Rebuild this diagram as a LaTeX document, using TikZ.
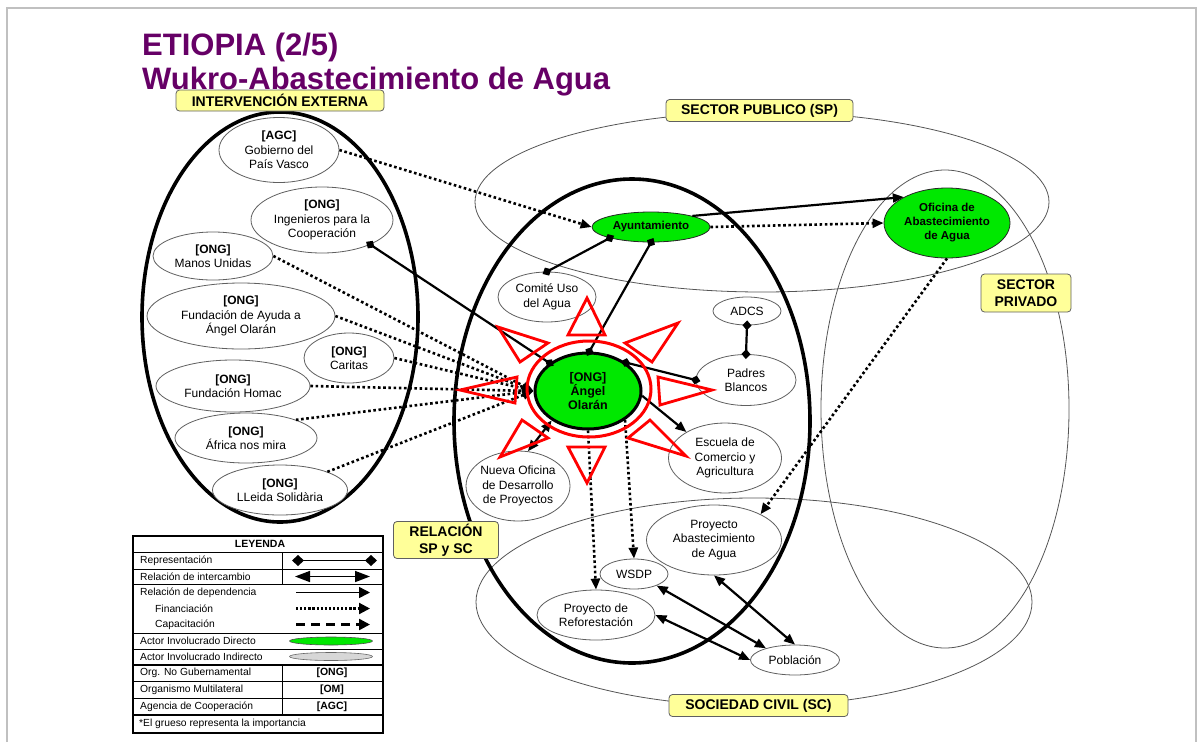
\documentclass[tikz,border=0pt]{standalone}
\usepackage{fontspec}
\setmainfont{Liberation Sans}
\usetikzlibrary{shapes.geometric,arrows.meta}
\definecolor{ttl}{RGB}{102,0,102}
\definecolor{lgreen}{RGB}{0,232,0}
\definecolor{ybox}{RGB}{255,255,153}
\definecolor{framec}{RGB}{192,192,192}
\definecolor{grpline}{RGB}{85,85,85}
\definecolor{nodeline}{RGB}{95,95,95}
\definecolor{indirect}{RGB}{215,215,215}
\begin{document}
\begin{tikzpicture}[x=1pt,y=-1pt,
  actor/.style={ellipse, draw=nodeline, line width=0.8pt, fill=white, inner sep=-8pt, align=center, font=\fontsize{12}{14.5}\selectfont},
  directa/.style={actor, fill=lgreen, draw=black!85, font=\fontsize{11.5}{14}\selectfont\bfseries},
  grp/.style={draw=grpline, line width=0.8pt},
  grpthick/.style={draw=black, line width=3.6pt},
  labelbox/.style={rectangle, rounded corners=3.5pt, fill=ybox, draw=gray!75!black, line width=0.8pt, font=\fontsize{14}{17}\selectfont\bfseries, align=center, inner sep=0pt},
  rep/.style={line width=2.2pt, {Diamond[length=10pt,width=9pt]}-{Diamond[length=10pt,width=9pt]}, shorten <=-5pt, shorten >=-5pt},
  dep/.style={line width=2.2pt, -{Triangle[length=11pt,width=9pt]}},
  inter/.style={line width=2.2pt, {Triangle[length=11pt,width=9pt]}-{Triangle[length=11pt,width=9pt]}},
  fin/.style={line width=2.6pt, dash pattern=on 2.6pt off 2.6pt, -{Triangle[length=11pt,width=9pt]}},
  starc/.style={draw=red, line width=2.8pt, line join=miter},
  legtxt/.style={anchor=west, inner sep=0pt, font=\fontsize{10.3}{12}\selectfont},
  legbold/.style={inner sep=0pt, font=\fontsize{10.5}{12}\selectfont\bfseries},
  tline/.style={line width=0.8pt},
  tthick/.style={line width=1.6pt},
]
\useasboundingbox (0,0) rectangle (1198,742);
% frame
\draw[framec, line width=2pt] (7,742) -- (7,8) -- (1196,8) -- (1196,742);

% title
\node[anchor=base west, inner sep=0pt, text=ttl, font=\fontsize{31}{37}\selectfont\bfseries] (t1) at (142,55) {ETIOPIA (2/5)};
\node[anchor=base west, inner sep=0pt, text=ttl, font=\fontsize{31}{37}\selectfont\bfseries] (t2) at (142,89) {Wukro-Abastecimiento de Agua};

% group ellipses
\draw[grp] (762,202) ellipse [x radius=287pt, y radius=90pt];
\draw[grp] (945,409) ellipse [x radius=124pt, y radius=239pt];
\draw[grp] (754,602) ellipse [x radius=278pt, y radius=104pt];
\draw[grpthick] (280,317) ellipse [x radius=138pt, y radius=205pt];
\draw[grpthick] (632,421) ellipse [x radius=178pt, y radius=242pt];

% group labels
\node[labelbox, minimum width=208pt, minimum height=21pt] (lie) at (280,100.5) {INTERVENCIÓN EXTERNA};
\node[labelbox, minimum width=187pt, minimum height=22pt] (lsp) at (759.5,110.5) {SECTOR PUBLICO (SP)};
\node[labelbox, minimum width=90pt, minimum height=38pt] (lpriv) at (1026,293) {SECTOR\\PRIVADO};
\node[labelbox, minimum width=105pt, minimum height=37pt] (lrel) at (446,540) {RELACIÓN\\SP y SC};
\node[labelbox, minimum width=179pt, minimum height=22pt] (lsc) at (758.5,705.5) {SOCIEDAD CIVIL (SC)};

% external actors
\node[actor, minimum width=120pt, minimum height=65pt] (gob) at (279,150) {\textbf{[AGC]}\\Gobierno del\\País Vasco};
\node[actor, minimum width=142pt, minimum height=66pt] (ing) at (322,220) {\textbf{[ONG]}\\Ingenieros para la\\Cooperación};
\node[actor, minimum width=120pt, minimum height=48pt] (manos) at (213,256) {\textbf{[ONG]}\\Manos Unidas};
\node[actor, minimum width=188pt, minimum height=66pt] (fayuda) at (241,316) {\textbf{[ONG]}\\Fundación de Ayuda a\\Ángel Olarán};
\node[actor, minimum width=90pt, minimum height=50pt] (caritas) at (349,358) {\textbf{[ONG]}\\Caritas};
\node[actor, minimum width=154pt, minimum height=52pt] (homac) at (233,386) {\textbf{[ONG]}\\Fundación Homac};
\node[actor, minimum width=142pt, minimum height=50pt] (africa) at (246,438) {\textbf{[ONG]}\\África nos mira};
\node[actor, minimum width=135pt, minimum height=50pt] (lleida) at (280,490) {\textbf{[ONG]}\\LLeida Solidària};

% public sector / relation actors
\node[directa, minimum width=118pt, minimum height=30pt] (ayu) at (651,227) {Ayuntamiento};
\node[directa, minimum width=126pt, minimum height=70pt] (ofi) at (947,223) {Oficina de\\Abastecimiento\\de Agua};
\node[actor, minimum width=98pt, minimum height=50pt] (com) at (547,297) {Comité Uso\\del Agua};
\node[actor, minimum width=68pt, minimum height=28pt] (adcs) at (747,311) {ADCS};
\node[actor, minimum width=100pt, minimum height=51pt] (pad) at (746,380) {Padres\\Blancos};
\node[actor, minimum width=113pt, minimum height=70pt] (esc) at (725,458) {Escuela de\\Comercio y\\Agricultura};
\node[actor, minimum width=104pt, minimum height=70pt] (nueva) at (518,486) {Nueva Oficina\\de Desarrollo\\de Proyectos};
\node[ellipse, fill=lgreen, draw=black, line width=3pt, inner sep=-8pt, minimum width=106pt, minimum height=76pt, align=center, font=\fontsize{12.5}{14}\selectfont\bfseries] (olaran) at (588,391) {[ONG]\\Ángel\\Olarán};

% civil society actors
\node[actor, minimum width=135pt, minimum height=70pt] (pa) at (714,540) {Proyecto\\Abastecimiento\\de Agua};
\node[actor, minimum width=68pt, minimum height=30pt] (wsdp) at (634,574) {WSDP};
\node[actor, minimum width=118pt, minimum height=50pt] (ref) at (596,615) {Proyecto de\\Reforestación};
\node[actor, minimum width=89pt, minimum height=30pt] (pob) at (795,660) {Población};

% connectors
\draw[fin] (gob.east) -- (ayu.west);
\draw[rep] (ing.-27) -- (olaran.144);
\draw[fin] (manos.east) -- (olaran.west);
\draw[fin] (fayuda.east) -- (olaran.west);
\draw[fin] (caritas.east) -- (olaran.west);
\draw[fin] (homac.east) -- (olaran.west);
\draw[fin] (africa.20) -- (olaran.west);
\draw[fin] (lleida.21) -- (olaran.west);
\draw[dep] (ayu.15) -- (ofi.149);
\draw[fin] (ayu.east) -- (ofi.west);
\draw[rep] (com.north) -- (ayu.195);
\draw[rep] (olaran.88) -- (ayu.south);
\draw[rep] (olaran.37) -- (pad.west);
\draw[rep] (adcs.south) -- (pad.north);
\draw[dep] (olaran.-5) -- (esc.146);
\draw[inter] (nueva.74) -- (olaran.219);
\draw[fin] (olaran.south) -- (ref.north);
\draw[fin] (olaran.-38) -- (wsdp.north);
\draw[fin] (ofi.south) -- (pa.29);
\draw[inter] (wsdp.-27) -- (pob.158);
\draw[inter] (ref.east) -- (pob.west);
\draw[inter] (pa.south) -- (pob.north);

% red star around Angel Olaran
\draw[red, line width=3pt] (589,389) ellipse [x radius=62pt, y radius=48pt];
\draw[starc] (587,298) -- (568,335) -- (605,335) -- cycle;
\draw[starc] (498,327) -- (548,343) -- (520,362) -- cycle;
\draw[starc] (678,323) -- (625,343) -- (652,362) -- cycle;
\draw[starc] (460,390) -- (517,377) -- (515,403) -- cycle;
\draw[starc] (712,390) -- (658,377) -- (660,405) -- cycle;
\draw[starc] (500,457) -- (522,420) -- (548,438) -- cycle;
\draw[starc] (686,456) -- (650,420) -- (628,438) -- cycle;
\draw[starc] (587,483) -- (568,447) -- (605,447) -- cycle;

% legend table
\fill[white] (133,536) rectangle (383,733);
\draw[tline] (133,552) -- (383,552);
\draw[tline] (133,569) -- (383,569);
\draw[tthick] (133,584.5) -- (383,584.5);
\draw[tthick] (133,633.5) -- (383,633.5);
\draw[tline] (133,649) -- (383,649);
\draw[tthick] (133,665) -- (383,665);
\draw[tline] (133,681.5) -- (383,681.5);
\draw[tline] (133,698) -- (383,698);
\draw[tthick] (133,715) -- (383,715);
\draw[tline] (282,552) -- (282,584.5);
\draw[tline] (282,665) -- (282,715);
\draw[tthick] (133,536) rectangle (383,733);

\node[legbold] (lgh) at (260,544) {LEYENDA};
\node[legtxt] (lg1) at (140,560.5) {Representación};
\node[legtxt] (lg2) at (140,576.5) {Relación de intercambio};
\node[legtxt] (lg3) at (140,592.5) {Relación de dependencia};
\node[legtxt] (lg4) at (155,608.5) {Financiación};
\node[legtxt] (lg5) at (155,624.5) {Capacitación};
\node[legtxt] (lg6) at (140,641) {Actor Involucrado Directo};
\node[legtxt] (lg7) at (140,657) {Actor Involucrado Indirecto};
\node[legtxt] (lg8) at (140,673) {Org. No Gubernamental};
\node[legtxt] (lg9) at (140,689.5) {Organismo Multilateral};
\node[legtxt] (lg10) at (140,706.5) {Agencia de Cooperación};
\node[legtxt] (lg11) at (139,724) {*El grueso representa la importancia};

\coordinate (s1a) at (292,560.5); \coordinate (s1b) at (377,560.5);
\coordinate (s2a) at (295,576.5); \coordinate (s2b) at (370,576.5);
\coordinate (s3a) at (296,592.5); \coordinate (s3b) at (370,592.5);
\coordinate (s4a) at (296,608.5); \coordinate (s4b) at (370,608.5);
\coordinate (s5a) at (296,624.5); \coordinate (s5b) at (370,624.5);
\draw[line width=1.5pt, {Diamond[length=12pt,width=11pt]}-{Diamond[length=12pt,width=11pt]}] (s1a) -- (s1b);
\draw[line width=1.5pt, {Triangle[length=15pt,width=11pt]}-{Triangle[length=15pt,width=11pt]}] (s2a) -- (s2b);
\draw[line width=1.5pt, -{Triangle[length=11pt,width=11pt]}] (s3a) -- (s3b);
\draw[line width=2.2pt, dash pattern=on 2.2pt off 1.9pt, -{Triangle[length=11pt,width=11pt]}] (s4a) -- (s4b);
\draw[line width=2.4pt, dash pattern=on 9pt off 6pt, -{Triangle[length=11pt,width=11pt]}] (s5a) -- (s5b);
\node[ellipse, fill=lgreen, draw=black!70, line width=0.6pt, minimum width=83pt, minimum height=8pt, inner sep=0pt] (ld) at (331,641) {};
\node[ellipse, fill=indirect, draw=black!60, line width=0.6pt, minimum width=83pt, minimum height=8pt, inner sep=0pt] (li) at (331,656.5) {};
\node[legbold] (lo1) at (332,673) {[ONG]};
\node[legbold] (lo2) at (332,689.5) {[OM]};
\node[legbold] (lo3) at (332,706.5) {[AGC]};
\end{tikzpicture}
\end{document}
